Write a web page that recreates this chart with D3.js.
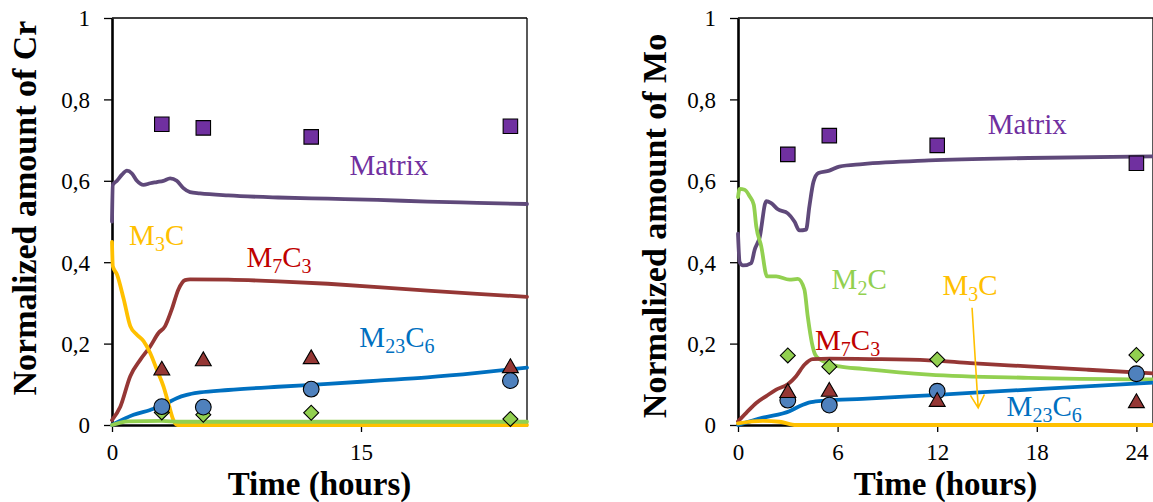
<!DOCTYPE html>
<html><head><meta charset="utf-8">
<script src="https://cdn.jsdelivr.net/npm/d3@7"></script>
<style>
body{margin:0;background:#fff}
svg{display:block}
</style>
</head><body>
<svg id="chart" width="1153" height="502"></svg>
<script>
// ---------- DATA ----------
const yTicks = [0, 0.2, 0.4, 0.6, 0.8, 1];
const yTickLabels = ["0", "0,2", "0,4", "0,6", "0,8", "1"];
const xTicksCr = [0, 15];
const xTicksMo = [0, 6, 12, 18, 24];
const expTimes = [3, 5.5, 12, 24];

// Cr panel – experimental points
const crMatrixExp = [0.739, 0.730, 0.708, 0.734];
const crM7C3Exp   = [0.134, 0.157, 0.162, 0.140];
const crM23C6Exp  = [0.045, 0.044, 0.088, 0.109];
const crM2CExp    = [0.031, 0.025, 0.030, 0.015];

// Cr panel – simulated curves
const crMatrixT = [0, 0.05, 0.3, 0.6, 0.9, 1.2, 1.5, 1.9, 2.3, 2.7, 3.1, 3.5, 3.9, 4.3, 4.7, 5.3, 7, 10, 13, 16, 19, 22, 25];
const crMatrixV = [0.50, 0.59, 0.60, 0.615, 0.625, 0.618, 0.60, 0.59, 0.594, 0.597, 0.60, 0.606, 0.60, 0.582, 0.572, 0.569, 0.564, 0.559, 0.556, 0.553, 0.549, 0.546, 0.543];
const crM7C3T = [0, 0.5, 1.1, 1.7, 2.3, 2.8, 3.2, 3.6, 4.0, 4.4, 4.7, 7, 10, 13, 16, 19, 22, 25];
const crM7C3V = [0.012, 0.045, 0.12, 0.16, 0.193, 0.226, 0.243, 0.284, 0.333, 0.356, 0.358, 0.357, 0.353, 0.347, 0.339, 0.330, 0.322, 0.315];
const crM23C6T = [0, 1.3, 2.3, 3.1, 3.9, 4.5, 5.3, 7, 10, 13, 16, 19, 22, 25];
const crM23C6V = [0, 0.025, 0.037, 0.049, 0.066, 0.074, 0.080, 0.086, 0.094, 0.101, 0.109, 0.117, 0.128, 0.141];
const crM3CT = [0, 0.05, 0.3, 0.7, 1.1, 1.5, 1.9, 2.3, 2.7, 3.1, 3.4, 3.7, 3.95, 25];
const crM3CV = [0.45, 0.39, 0.37, 0.31, 0.243, 0.222, 0.206, 0.177, 0.136, 0.095, 0.053, 0.012, 0, 0];
const crM2CT = [0, 0.5, 1, 3, 4, 25];
const crM2CV = [0, 0.006, 0.009, 0.010, 0.008, 0.008];

// Mo panel – experimental points
const moMatrixExp = [0.665, 0.711, 0.687, 0.643];
const moM7C3Exp   = [0.079, 0.082, 0.057, 0.054];
const moM23C6Exp  = [0.061, 0.049, 0.083, 0.126];
const moM2CExp    = [0.171, 0.143, 0.161, 0.172];

// Mo panel – simulated curves
const moMatrixT = [0, 0.1, 0.3, 0.8, 1.0, 1.3, 1.7, 2.0, 2.4, 3.0, 3.4, 3.7, 4.1, 4.3, 4.55, 4.85, 5.5, 6.1, 7.5, 11.5, 17.5, 25];
const moMatrixV = [0.47, 0.40, 0.392, 0.398, 0.43, 0.46, 0.55, 0.545, 0.53, 0.52, 0.50, 0.478, 0.48, 0.537, 0.598, 0.619, 0.625, 0.635, 0.641, 0.650, 0.656, 0.660];
const moM2CT = [0, 0.1, 0.4, 0.7, 0.95, 1.1, 1.4, 1.75, 2.3, 3.1, 3.6, 4.0, 4.2, 4.45, 4.65, 4.95, 6.1, 7.5, 11.5, 17.5, 25];
const moM2CV = [0.56, 0.58, 0.578, 0.562, 0.541, 0.488, 0.439, 0.365, 0.365, 0.357, 0.359, 0.333, 0.267, 0.202, 0.173, 0.161, 0.144, 0.138, 0.124, 0.116, 0.112];
const moM7C3T = [0, 0.5, 1.1, 1.7, 2.3, 3.0, 3.5, 4.0, 4.5, 5.5, 8, 11.5, 14, 17.5, 21, 25];
const moM7C3V = [0.009, 0.03, 0.054, 0.071, 0.087, 0.10, 0.12, 0.148, 0.162, 0.163, 0.162, 0.159, 0.152, 0.144, 0.136, 0.127];
const moM23C6T = [0, 1.5, 3.1, 3.7, 4.4, 5.3, 7.5, 11.5, 17.5, 25];
const moM23C6V = [0, 0.018, 0.034, 0.046, 0.056, 0.060, 0.064, 0.073, 0.087, 0.104];
const moM3CT = [0, 1.5, 2.5, 3.5, 25];
const moM3CV = [0.004, 0.010, 0.008, 0, 0];

// ---------- STYLE ----------
const FONT = '"Liberation Serif"';
const C = {
  matrixLine: "#5F497A", matrixPt: "#7030A0", matrixTxt: "#7030A0",
  m7Line: "#953735", m7Pt: "#953735", m7Txt: "#C00000",
  m23Line: "#0070C0", m23Pt: "#4F81BD", m23Txt: "#0070C0",
  m3Line: "#FFC000", m3Txt: "#FFC000",
  m2Line: "#92D050", m2Pt: "#92D050", m2Txt: "#92D050"
};

const svg = d3.select("#chart");
const Y0 = 425, Y1 = 18;

function zip(t, v) { return t.map((d, i) => [d, v[i]]); }

function drawPanel(cfg) {
  const x = d3.scaleLinear().domain([0, 25]).range(cfg.xRange);
  const y = d3.scaleLinear().domain([0, 1]).range([Y0, Y1]);
  const g = svg.append("g");

  // frame (top & right)
  g.append("line").attr("x1", x(0)).attr("x2", x(25)).attr("y1", y(1)).attr("y2", y(1))
    .attr("stroke", "#000").attr("stroke-width", 1.3);
  g.append("line").attr("x1", x(25)).attr("x2", x(25)).attr("y1", y(0)).attr("y2", y(1))
    .attr("stroke", "#000").attr("stroke-width", 1.3);

  // y axis
  const ya = g.append("g").attr("transform", `translate(${x(0)},0)`)
    .call(d3.axisLeft(y).tickValues(yTicks).tickFormat((d, i) => yTickLabels[i])
      .tickSize(8).tickSizeOuter(0).tickPadding(14));
  ya.select(".domain").attr("stroke", "#000").attr("stroke-width", 2.6);
  ya.selectAll(".tick line").attr("stroke", "#000").attr("stroke-width", 1.3);
  ya.selectAll(".tick text").attr("fill", "#000").attr("dy", "0.34em")
    .style("font-family", FONT).style("font-size", "23px");

  // x axis
  const xa = g.append("g").attr("transform", `translate(0,${y(0)})`)
    .call(d3.axisBottom(x).tickValues(cfg.xTicks).tickFormat(d3.format("d"))
      .tickSize(7).tickSizeOuter(0));
  xa.select(".domain").attr("stroke", "#000").attr("stroke-width", 2.6);
  xa.selectAll(".tick line").attr("stroke", "#000").attr("stroke-width", 1.3);
  xa.selectAll(".tick text").attr("fill", "#000").attr("y", 35).attr("dy", 0)
    .style("font-family", FONT).style("font-size", "23px");

  // titles
  g.append("text").attr("x", (cfg.xRange[0] + cfg.xRange[1]) / 2).attr("y", 494.5)
    .attr("text-anchor", "middle")
    .style("font-family", FONT).style("font-weight", "bold").style("font-size", "33px")
    .text("Time (hours)");
  g.append("text").attr("transform", `translate(${cfg.titleX},${cfg.titleY}) rotate(-90)`)
    .attr("text-anchor", "middle")
    .style("font-family", FONT).style("font-weight", "bold").style("font-size", "34px")
    .text(cfg.yTitle);

  // curves
  const line = d3.line().x(d => x(d[0])).y(d => y(d[1])).curve(d3.curveMonotoneX);
  cfg.curves.forEach(c => {
    g.append("path").datum(zip(c.t, c.v)).attr("d", line)
      .attr("fill", "none").attr("stroke", c.color).attr("stroke-width", 3.8)
      .attr("stroke-linejoin", "round").attr("stroke-linecap", "round");
  });

  // markers
  const shapes = {
    square: { type: d3.symbolSquare, size: 210, rot: 0 },
    circle: { type: d3.symbolCircle, size: 195, rot: 0 },
    triangle: { type: d3.symbolTriangle, size: 110, rot: 0 },
    diamond: { type: d3.symbolSquare, size: 112, rot: 45 }
  };
  cfg.markers.forEach(m => {
    const s = shapes[m.shape];
    g.append("g").selectAll("path").data(zip(expTimes, m.v)).join("path")
      .attr("d", d3.symbol().type(s.type).size(s.size))
      .attr("transform", d => `translate(${x(d[0])},${y(d[1])}) rotate(${s.rot})`)
      .attr("fill", m.fill).attr("stroke", "#000").attr("stroke-width", 1.1);
  });

  // arrow
  if (cfg.arrow) {
    const [t0, v0, t1, v1] = cfg.arrow;
    const ax0 = x(t0), ay0 = y(v0), ax1 = x(t1), ay1 = y(v1);
    const ang = Math.atan2(ay1 - ay0, ax1 - ax0);
    const L = 13, W = 7;
    const bx = ax1 - L * Math.cos(ang), by = ay1 - L * Math.sin(ang);
    const px = -Math.sin(ang) * W, py = Math.cos(ang) * W;
    g.append("path")
      .attr("d", `M${ax0},${ay0}L${ax1},${ay1}M${bx + px},${by + py}L${ax1},${ay1}L${bx - px},${by - py}`)
      .attr("fill", "none").attr("stroke", C.m3Line).attr("stroke-width", 1.6);
  }

  // labels
  cfg.labels.forEach(l => {
    const t = g.append("text").attr("x", x(l.t)).attr("y", y(l.v))
      .attr("fill", l.color)
      .style("font-family", FONT).style("font-size", "29px");
    let down = false;
    l.parts.forEach(p => {
      const sub = /^[0-9]+$/.test(p);
      const ts = t.append("tspan").text(p);
      if (sub && !down) { ts.attr("dy", 6).style("font-size", "20px"); down = true; }
      else if (sub) { ts.style("font-size", "20px"); }
      else if (down) { ts.attr("dy", -6); down = false; }
    });
  });
}

drawPanel({
  xRange: [112, 527], xTicks: xTicksCr,
  yTitle: "Normalized amount of Cr", titleX: 36, titleY: 208,
  curves: [
    { t: crMatrixT, v: crMatrixV, color: C.matrixLine },
    { t: crM7C3T, v: crM7C3V, color: C.m7Line },
    { t: crM23C6T, v: crM23C6V, color: C.m23Line },
    { t: crM3CT, v: crM3CV, color: C.m3Line },
    { t: crM2CT, v: crM2CV, color: C.m2Line }
  ],
  markers: [
    { v: crMatrixExp, shape: "square", fill: C.matrixPt },
    { v: crM2CExp, shape: "diamond", fill: C.m2Pt },
    { v: crM7C3Exp, shape: "triangle", fill: C.m7Pt },
    { v: crM23C6Exp, shape: "circle", fill: C.m23Pt }
  ],
  labels: [
    { parts: ["Matrix"], t: 14.3, v: 0.614, color: C.matrixTxt },
    { parts: ["M", "3", "C"], t: 1.03, v: 0.442, color: C.m3Txt },
    { parts: ["M", "7", "C", "3"], t: 8.1, v: 0.389, color: C.m7Txt },
    { parts: ["M", "23", "C", "6"], t: 14.9, v: 0.192, color: C.m23Txt }
  ]
});

drawPanel({
  xRange: [738, 1153], xTicks: xTicksMo,
  yTitle: "Normalized amount of Mo", titleX: 666, titleY: 226,
  curves: [
    { t: moMatrixT, v: moMatrixV, color: C.matrixLine },
    { t: moM2CT, v: moM2CV, color: C.m2Line },
    { t: moM7C3T, v: moM7C3V, color: C.m7Line },
    { t: moM23C6T, v: moM23C6V, color: C.m23Line },
    { t: moM3CT, v: moM3CV, color: C.m3Line }
  ],
  markers: [
    { v: moMatrixExp, shape: "square", fill: C.matrixPt },
    { v: moM23C6Exp, shape: "circle", fill: C.m23Pt },
    { v: moM7C3Exp, shape: "triangle", fill: C.m7Pt },
    { v: moM2CExp, shape: "diamond", fill: C.m2Pt }
  ],
  labels: [
    { parts: ["Matrix"], t: 15.05, v: 0.715, color: C.matrixTxt },
    { parts: ["M", "2", "C"], t: 5.64, v: 0.334, color: C.m2Txt },
    { parts: ["M", "3", "C"], t: 12.32, v: 0.32, color: C.m3Txt },
    { parts: ["M", "7", "C", "3"], t: 4.64, v: 0.185, color: C.m7Txt },
    { parts: ["M", "23", "C", "6"], t: 16.18, v: 0.023, color: C.m23Txt }
  ],
  arrow: [14.1, 0.288, 14.47, 0.042]
});
</script>
</body></html>
